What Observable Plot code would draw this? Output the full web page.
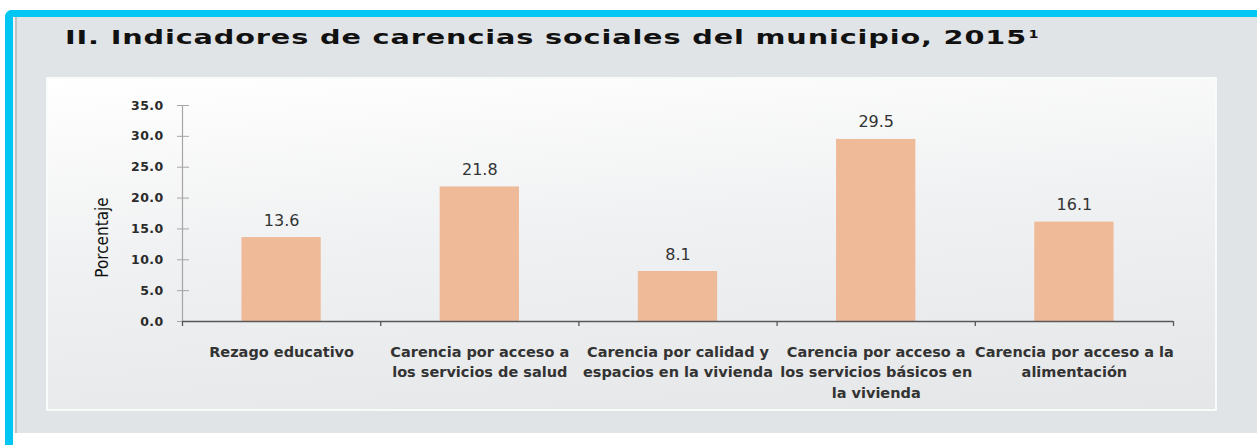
<!DOCTYPE html>
<html>
<head>
<meta charset="utf-8">
<script src="https://cdn.jsdelivr.net/npm/d3@7"></script>
<script src="https://cdn.jsdelivr.net/npm/@observablehq/plot@0.6"></script>
<style>
  html, body { margin: 0; padding: 0; background: #ffffff; width: 1257px; height: 445px; overflow: hidden; }
  #frame { position: absolute; left: 5px; top: 10px; width: 1262px; height: 450px;
    box-sizing: border-box; border-top: 7px solid #00c6f4; border-left: 8px solid #00c6f4;
    border-top-left-radius: 7px; background: #ffffff; }
  #panel { position: absolute; left: 13px; top: 17px; width: 1244px; height: 416px; background: #e1e4e6;
    box-sizing: border-box; border-left: 2px solid #f3f4f5; }
  #panelLine { position: absolute; left: 15px; top: 17px; width: 1.5px; height: 416px; background: #bfc3c6; }
  #inner { position: absolute; left: 46px; top: 77px; width: 1171px; height: 334px; box-sizing: border-box;
    border: 2px solid #f9fafa; background: linear-gradient(176deg, #ffffff 0%, #f0f1f2 45%, #e4e6e7 100%); }
  #chart { position: absolute; left: 46px; top: 77px; width: 1171px; height: 334px; }
  #title { position: absolute; left: 65px; top: 27px; white-space: nowrap; font-family: "DejaVu Sans", Verdana, sans-serif;
    font-weight: bold; font-size: 20px; line-height: 20px; color: #111; letter-spacing: 0.6px; transform-origin: 0 0; }
  #title sup { font-size: 10px; position: relative; top: -6.5px; vertical-align: baseline; margin-left: 1px; letter-spacing: 0; }
  #chart svg g[aria-label="y-axis tick label"] text { letter-spacing: 0.4px; }
</style>
</head>
<body>
<div id="frame"></div>
<div id="panel"></div>
<div id="panelLine"></div>
<div id="inner"></div>
<div id="title"><span id="titleMain">II. Indicadores de carencias sociales del municipio, 2015</span><sup>1</sup></div>
<div id="chart"></div>
<script>
// ---- data ----
const categories = [
  "Rezago educativo",
  "Carencia por acceso a\nlos servicios de salud",
  "Carencia por calidad y\nespacios en la vivienda",
  "Carencia por acceso a\nlos servicios básicos en\nla vivienda",
  "Carencia por acceso a la\nalimentación"
];
const values = [13.6, 21.8, 8.1, 29.5, 16.1];
const yTicks = [0, 5, 10, 15, 20, 25, 30, 35];
const yLabel = "Porcentaje";

const data = categories.map((c, i) => ({ i, c, v: values[i] }));
const boundaries = d3.range(0, categories.length + 1);
const centers = categories.map((c, i) => i + 0.5);
const fmt = d3.format(".1f");

// stretch title to match reference width
const tm = document.getElementById("titleMain");
const tw = tm.getBoundingClientRect().width;
document.getElementById("title").style.transform = `scaleX(${962 / tw})`;

const plot = Plot.plot({
  width: 1171,
  height: 334,
  marginLeft: 136,
  marginRight: 44,
  marginTop: 28,
  marginBottom: 90,
  style: { background: "transparent", overflow: "visible", fontFamily: "DejaVu Sans, Verdana, sans-serif" },
  x: { type: "linear", domain: [0, categories.length], label: null },
  y: { domain: [0, 35], label: null },
  marks: [
    Plot.rectY(data, { x1: d => d.i + 0.3, x2: d => d.i + 0.7, y1: 0, y2: "v", fill: "#efba98" }),
    Plot.ruleX([0], { y1: 0, y2: 35, stroke: "#a6a6a6", strokeWidth: 1.2 }),
    Plot.axisY({ ticks: yTicks, tickSize: 12, dx: 7, tickFormat: () => "", stroke: "#a6a6a6", label: null }),
    Plot.axisY({ ticks: yTicks, tickSize: 0, tickPadding: 19, tickFormat: fmt, fontSize: 12.5, fontWeight: "bold", fill: "#2a2a2a", label: null }),
    Plot.ruleY([0], { stroke: "#595959", strokeWidth: 1.6 }),
    Plot.axisX({ ticks: boundaries, tickSize: 5, tickFormat: () => "", stroke: "#595959", strokeWidth: 1.3, label: null }),
    Plot.axisX({ ticks: centers, tickSize: 0, tickPadding: 21, tickFormat: t => categories[Math.floor(t)],
      fontSize: 14.5, fontWeight: "bold", fill: "#333", lineHeight: 1.41, label: null }),
    Plot.text(data, { x: d => d.i + 0.5, y: "v", text: d => fmt(d.v), lineAnchor: "bottom", dy: -12, fontSize: 16, fill: "#333" }),
    Plot.text([yLabel], { frameAnchor: "left", textAnchor: "middle", rotate: -90, dx: -80, dy: 24, fontSize: 17, fill: "#111",
      fontFamily: "Liberation Sans Narrow, DejaVu Sans Condensed, Arial Narrow, sans-serif", fontStretch: "condensed" })
  ]
});
document.getElementById("chart").appendChild(plot);
</script>
</body>
</html>
